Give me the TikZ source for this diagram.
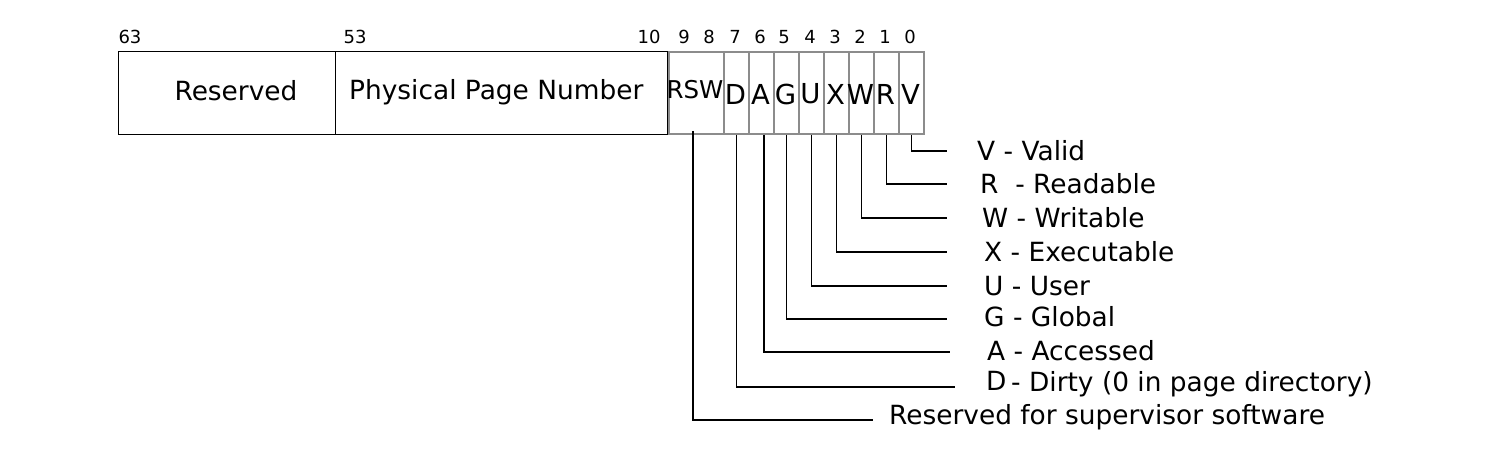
\documentclass[tikz,border=0pt]{standalone}
\usepackage{fontspec}
\setmainfont{DejaVu Sans}
\begin{document}
\begin{tikzpicture}[x=1pt,y=-1pt,
  field/.style={draw=black,line width=1.4pt,minimum height=83pt,inner sep=0pt,anchor=north west},
  bit/.style={draw=black!45,line width=2pt,minimum height=82pt,minimum width=25pt,inner sep=0pt,anchor=north west},
  num/.style={inner sep=0pt,font=\fontsize{18}{20}\selectfont},
  lbl/.style={inner sep=0pt,anchor=west,font=\fontsize{26.4}{30}\selectfont},
  conn/.style={line width=1.5pt,black}]
\useasboundingbox (0,0) rectangle (1494,468);
% fields
\node[field,minimum width=217pt] (res) at (118,51) {};
\node[font=\fontsize{26.4}{30}\selectfont,inner sep=0pt] at (236,91) {Reserved};
\node[field,minimum width=332pt] (ppn) at (335,51) {};
\node[font=\fontsize{26.4}{30}\selectfont,inner sep=0pt,anchor=west] at (349,92) {Physical Page Number};
\node[bit,minimum width=55pt] (RSW) at (668,51) {};
\node[inner sep=0pt,font=\fontsize{24.5}{28}\selectfont] at (695,90) {RSW};
\foreach \n/\x in {D/723,A/748,G/773,U/798,X/823,W/848,R/873,V/898}{
  \node[bit] (\n) at (\x,51) {};
  \node[inner sep=0pt,font=\fontsize{27.5}{30}\selectfont] at (\x+12.5,94) {\n};
}
% bit numbers
\node[num] (n63) at (130,37) {63};
\node[num] (n53) at (355,37) {53};
\node[num] (n10) at (649,37) {10};
\foreach \t/\x in {9/684,8/709,7/735,6/760,5/784,4/810,3/835,2/860,1/885,0/910}{
  \node[num] (n\t) at (\x,37) {\t};
}
% connector ends
\coordinate (eV) at (947,151);
\coordinate (eR) at (947,184);
\coordinate (eW) at (947,218);
\coordinate (eX) at (947,252);
\coordinate (eU) at (947,286);
\coordinate (eG) at (947,319);
\coordinate (eA) at (950,352);
\coordinate (eD) at (955,387);
\coordinate (eS) at (873,420);
\coordinate (sS) at (693,131);
% connectors
\draw[conn] (V.south) |- (eV);
\draw[conn] (R.south) |- (eR);
\draw[conn] (W.south) |- (eW);
\draw[conn] (X.south) |- (eX);
\draw[conn] (U.south) |- (eU);
\draw[conn] (G.south) |- (eG);
\draw[conn] ([xshift=2.5pt]A.south) |- (eA);
\draw[conn] (D.south) |- (eD);
\draw[conn] (sS) |- (eS);
% labels
\node[lbl] (lV) at (977,151) {V - Valid};
\node[lbl] (lR) at (980,184) {R\ \ - Readable};
\node[lbl] (lW) at (982,218) {W - Writable};
\node[lbl] (lX) at (984,252) {X - Executable};
\node[lbl] (lU) at (984,286) {U - User};
\node[lbl] (lG) at (984,317) {G - Global};
\node[lbl] (lA) at (987,351) {A - Accessed};
\node[lbl] (lD) at (986,381) {D};
\node[lbl] (lD2) at (1011,384) {- Dirty (0 in page directory)};
\node[lbl] (lS) at (889,417) {Reserved for supervisor software};
\end{tikzpicture}
\end{document}
